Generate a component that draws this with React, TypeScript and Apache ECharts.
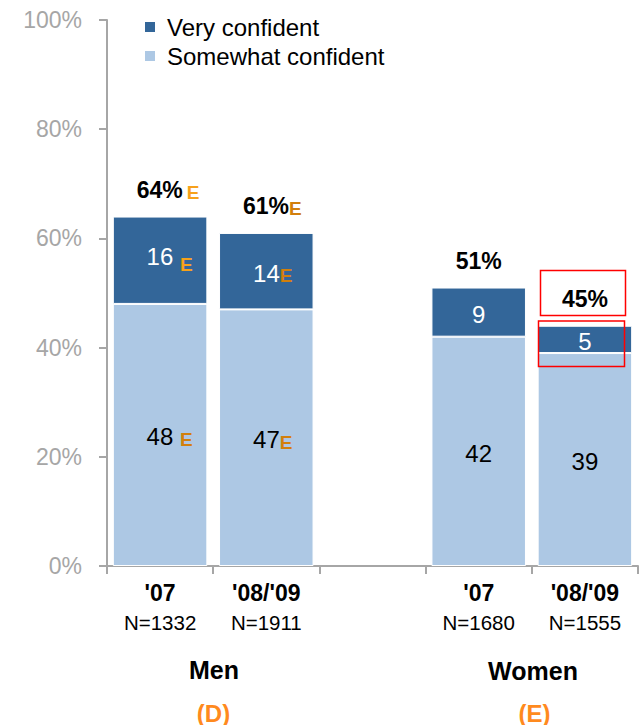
import { useEffect, useRef } from "react";
import * as echarts from "echarts";

const categories = ["Men '07", "Men '08/'09", "", "Women '07", "Women '08/'09"];
const yearLabels = ["'07", "'08/'09", "", "'07", "'08/'09"];
const sampleSizes = ["N=1332", "N=1911", "", "N=1680", "N=1555"];
const somewhatConfident: (number | null)[] = [48, 47, null, 42, 39];
const veryConfident: (number | null)[] = [16, 14, null, 9, 5];
const totalLabels: (number | null)[] = [64, 61, null, 51, 45];
const somewhatSig = [true, true, false, false, false];
const verySig = [true, true, false, false, false];
const totalSig = [true, true, false, false, false];
const groupLabels = ["Men", "Women"];
const groupLetters = ["(D)", "(E)"];

const FONT = "'Liberation Sans', Arial, Helvetica, sans-serif";
const DARK = "#336699";
const LIGHT = "#ADC8E4";
const AXIS = "#A6A6A6";
const E_BRIGHT = "#F7A11B";
const E_DARK = "#D27F0C";
const E_LETTER = "#FF8A1E";

export default function App() {
  const ref = useRef<HTMLDivElement>(null);
  useEffect(() => {
    if (!ref.current) return;
    const chart = echarts.init(ref.current, null, { renderer: "svg" });

    const tops = somewhatConfident.map((v, i) =>
      v == null || veryConfident[i] == null ? null : (v as number) + (veryConfident[i] as number)
    );

    const eRich = (color: string, size: number) => ({
      fontSize: size,
      fontWeight: "bold" as const,
      color,
      fontFamily: FONT,
      verticalAlign: "bottom" as const,
      lineHeight: 28,
    });

    const option: any = {
      animation: false,
      grid: { left: 107, right: 1, top: 20, bottom: 159 },
      legend: {
        data: ["Very confident", "Somewhat confident"],
        orient: "vertical",
        left: 143,
        top: 15,
        padding: 0,
        itemWidth: 12,
        itemHeight: 12,
        itemGap: 5,
        icon: "rect",
        selectedMode: false,
        textStyle: { fontSize: 24, color: "#000", fontFamily: FONT, lineHeight: 24, padding: [0, 0, 0, 6] },
      },
      xAxis: {
        type: "category",
        data: categories,
        axisLine: { lineStyle: { color: AXIS, width: 2 } },
        axisTick: { show: true, length: 8, lineStyle: { color: AXIS, width: 2 } },
        axisLabel: {
          interval: 0,
          margin: 12,
          formatter: (_v: string, i: number) =>
            yearLabels[i] ? `{y|${yearLabels[i]}}\n{n|${sampleSizes[i]}}` : "",
          rich: {
            y: { fontSize: 23, fontWeight: "bold", color: "#000", fontFamily: FONT, lineHeight: 30 },
            n: { fontSize: 20.5, color: "#000", fontFamily: FONT, lineHeight: 29 },
          },
        },
      },
      yAxis: {
        type: "value",
        min: 0,
        max: 100,
        interval: 20,
        axisLine: { show: true, lineStyle: { color: AXIS, width: 2 } },
        axisTick: { show: true, length: 8, lineStyle: { color: AXIS, width: 2 } },
        splitLine: { show: false },
        axisLabel: { formatter: "{value}%", fontSize: 23, color: AXIS, fontFamily: FONT, margin: 25 },
      },
      series: [
        {
          name: "Somewhat confident",
          type: "bar",
          stack: "total",
          barCategoryGap: "11%",
          itemStyle: { color: LIGHT, borderColor: "#fff", borderWidth: 1 },
          data: somewhatConfident.map((v, i) => ({
            value: v,
            label: { offset: [somewhatSig[i] ? (i === 0 ? 9.5 : 6.5) : 0, 0] },
          })),
          label: {
            show: true,
            position: "inside",
            color: "#000",
            textBorderWidth: 0,
            formatter: (p: any) => {
              const i = p.dataIndex;
              const v = somewhatConfident[i];
              if (v == null) return "";
              return somewhatSig[i] ? `{n|${v}${i === 0 ? " " : ""}}{e|E}` : `{n|${v}}`;
            },
            rich: {
              n: { fontSize: 24, color: "#000", fontFamily: FONT, verticalAlign: "bottom", lineHeight: 28 },
              e: eRich(E_DARK, 19),
            },
          },
        },
        {
          name: "Very confident",
          type: "bar",
          stack: "total",
          itemStyle: { color: DARK, borderColor: "#fff", borderWidth: 1 },
          data: veryConfident.map((v, i) => ({
            value: v,
            label: { offset: [verySig[i] ? (i === 0 ? 9.5 : 6.5) : 0, 0] },
          })),
          label: {
            show: true,
            position: "inside",
            color: "#fff",
            textBorderWidth: 0,
            formatter: (p: any) => {
              const i = p.dataIndex;
              const v = veryConfident[i];
              if (v == null) return "";
              if (!verySig[i]) return `{n|${v}}`;
              return i === 0 ? `{d|${v} }{eb|E}` : `{n|${v}}{e|E}`;
            },
            rich: {
              n: { fontSize: 24, color: "#fff", fontFamily: FONT, verticalAlign: "bottom", lineHeight: 28 },
              d: { fontSize: 24, color: "#fff", fontFamily: FONT, verticalAlign: "bottom", lineHeight: 28, padding: [0, 0, 6, 0] },
              e: eRich(E_DARK, 19),
              eb: eRich(E_BRIGHT, 19),
            },
          },
        },
        {
          name: "Total",
          type: "scatter",
          silent: true,
          symbolSize: 1,
          itemStyle: { color: "rgba(0,0,0,0)" },
          z: 5,
          data: tops.map((v, i) => ({
            value: v,
            label: { offset: [totalSig[i] ? (i === 0 ? 8 : 6) : 0, -29] },
          })),
          label: {
            show: true,
            position: "inside",
            color: "#000",
            opacity: 1,
            textBorderWidth: 0,
            textShadowBlur: 0,
            formatter: (p: any) => {
              const i = p.dataIndex;
              const t = totalLabels[i];
              if (t == null) return "";
              if (!totalSig[i]) return `{t|${t}%}`;
              return i === 0 ? `{t|${t}%}{eb|E}` : `{t|${t}%}{e0|E}`;
            },
            rich: {
              t: { fontSize: 23, fontWeight: "bold", color: "#000", fontFamily: FONT, verticalAlign: "bottom", lineHeight: 28, textBorderWidth: 0 },
              eb: { ...eRich(E_BRIGHT, 19), padding: [0, 0, 0, 4] },
              e0: eRich(E_DARK, 19),
            },
          },
        },
      ],
      graphic: [
        {
          type: "text",
          x: 214,
          y: 670,
          style: { text: groupLabels[0], font: `bold 25px ${FONT}`, fill: "#000", textAlign: "center", textVerticalAlign: "middle" },
        },
        {
          type: "text",
          x: 533,
          y: 671,
          style: { text: groupLabels[1], font: `bold 25px ${FONT}`, fill: "#000", textAlign: "center", textVerticalAlign: "middle" },
        },
        {
          type: "text",
          x: 213.5,
          y: 713,
          style: { text: groupLetters[0], font: `bold 24px ${FONT}`, fill: E_LETTER, textAlign: "center", textVerticalAlign: "middle" },
        },
        {
          type: "text",
          x: 534.5,
          y: 713,
          style: { text: groupLetters[1], font: `bold 24px ${FONT}`, fill: E_LETTER, textAlign: "center", textVerticalAlign: "middle" },
        },
        {
          type: "rect",
          shape: { x: 540.5, y: 270.5, width: 85, height: 45 },
          style: { fill: "none", stroke: "#FF0000", lineWidth: 1.5 },
          z: 10,
        },
        {
          type: "rect",
          shape: { x: 538.5, y: 321, width: 86, height: 45.5 },
          style: { fill: "none", stroke: "#FF0000", lineWidth: 1.5 },
          z: 10,
        },
      ],
    };

    chart.setOption(option);
    return () => chart.dispose();
  }, []);

  return <div ref={ref} style={{ position: "absolute", left: 0, top: 0, width: 639, height: 725 }} />;
}
